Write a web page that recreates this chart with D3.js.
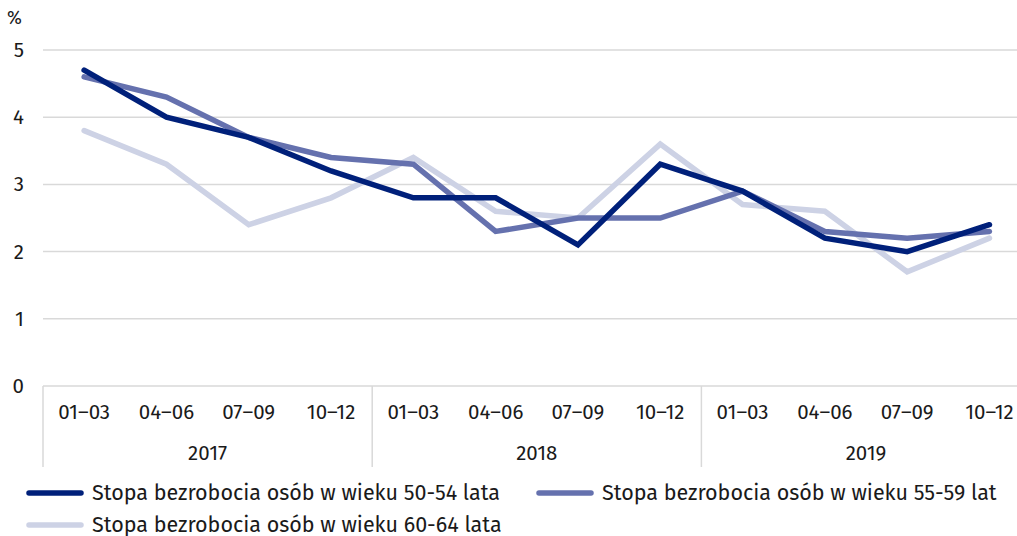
<!DOCTYPE html>
<html>
<head>
<meta charset="utf-8">
<script src="https://cdn.jsdelivr.net/npm/d3@7"></script>
<style>
  body { margin: 0; background: #fff; }
  svg text { font-family: "Fira Sans", "Noto Sans", sans-serif; fill: #1a1a1a; }
</style>
</head>
<body>
<div id="chart"></div>
<script>
// data
const years = ["2017", "2018", "2019"];
const quarters = ["01–03", "04–06", "07–09", "10–12"];
const seriesNames = [
  "Stopa bezrobocia osób w wieku 50-54 lata",
  "Stopa bezrobocia osób w wieku 55-59 lat",
  "Stopa bezrobocia osób w wieku 60-64 lata"
];
const age5054 = [4.7, 4.0, 3.7, 3.2, 2.8, 2.8, 2.1, 3.3, 2.9, 2.2, 2.0, 2.4];
const age5559 = [4.6, 4.3, 3.7, 3.4, 3.3, 2.3, 2.5, 2.5, 2.9, 2.3, 2.2, 2.3];
const age6064 = [3.8, 3.3, 2.4, 2.8, 3.4, 2.6, 2.5, 3.6, 2.7, 2.6, 1.7, 2.2];
const yTicks = [0, 1, 2, 3, 4, 5];

const colors = ["#00207a", "#6571ae", "#cdd2e5"];

const W = 1017, H = 536;
const margin = {top: 50, left: 43};
const plotH = 336;
const band = 82.3;

// categories: year + quarter
const cats = [];
years.forEach(y => quarters.forEach(q => cats.push(y + "|" + q)));

const svg = d3.select("#chart").append("svg")
  .attr("width", W)
  .attr("height", H);

const x = d3.scaleBand()
  .domain(cats)
  .range([margin.left, margin.left + band * cats.length]);

const y = d3.scaleLinear()
  .domain([0, 5])
  .range([margin.top + plotH, margin.top]);

// gridlines
svg.append("g")
  .selectAll("line")
  .data(yTicks)
  .join("line")
    .attr("x1", margin.left)
    .attr("x2", W)
    .attr("y1", d => y(d))
    .attr("y2", d => y(d))
    .attr("stroke", "#d9d9d9")
    .attr("stroke-width", 1.5);

// y labels
svg.append("g")
  .selectAll("text")
  .data(yTicks)
  .join("text")
    .attr("x", 24)
    .attr("y", d => y(d) + 7)
    .attr("text-anchor", "end")
    .style("font-size", "20.5px")
    .text(d => d);

svg.append("text")
  .attr("x", 7)
  .attr("y", 24)
  .style("font-size", "18px")
  .text("%");

// year separators
const sepBottom = 467;
const seps = [0, 4, 8, 12].map(i => i < cats.length ? x(cats[i]) : x(cats[cats.length - 1]) + x.bandwidth());
svg.append("g")
  .selectAll("line")
  .data(seps)
  .join("line")
    .attr("x1", d => d)
    .attr("x2", d => d)
    .attr("y1", y(0))
    .attr("y2", sepBottom)
    .attr("stroke", "#d9d9d9")
    .attr("stroke-width", 1.5);

// quarter labels
svg.append("g")
  .selectAll("text")
  .data(cats)
  .join("text")
    .attr("x", d => x(d) + x.bandwidth() / 2)
    .attr("y", 419)
    .attr("text-anchor", "middle")
    .style("font-size", "20.5px")
    .text(d => d.split("|")[1]);

// year labels
svg.append("g")
  .selectAll("text")
  .data(years)
  .join("text")
    .attr("x", d => (x(d + "|" + quarters[0]) + x(d + "|" + quarters[3]) + x.bandwidth()) / 2)
    .attr("y", 460)
    .attr("text-anchor", "middle")
    .style("font-size", "20.5px")
    .text(d => d);

// lines (light first so dark ones sit on top)
const allSeries = [age5054, age5559, age6064];
const line = d3.line()
  .x((d, i) => x(cats[i]) + x.bandwidth() / 2)
  .y(d => y(d));

[2, 1, 0].forEach(k => {
  svg.append("path")
    .datum(allSeries[k])
    .attr("fill", "none")
    .attr("stroke", colors[k])
    .attr("stroke-width", 5.5)
    .attr("stroke-linejoin", "miter")
    .attr("stroke-linecap", "round")
    .attr("d", line);
});

// legend
const legendPos = [
  {x: 29, y: 493},
  {x: 539, y: 493},
  {x: 29, y: 525}
];
const legend = svg.append("g")
  .selectAll("g")
  .data(seriesNames)
  .join("g")
    .attr("transform", (d, i) => `translate(${legendPos[i].x}, ${legendPos[i].y})`);

legend.append("line")
  .attr("x1", 0)
  .attr("x2", 52)
  .attr("stroke", (d, i) => colors[i])
  .attr("stroke-width", 5.5)
  .attr("stroke-linecap", "round");

legend.append("text")
  .attr("x", 63)
  .attr("y", 7)
  .style("font-size", "21.5px")
  .text(d => d);
</script>
</body>
</html>
